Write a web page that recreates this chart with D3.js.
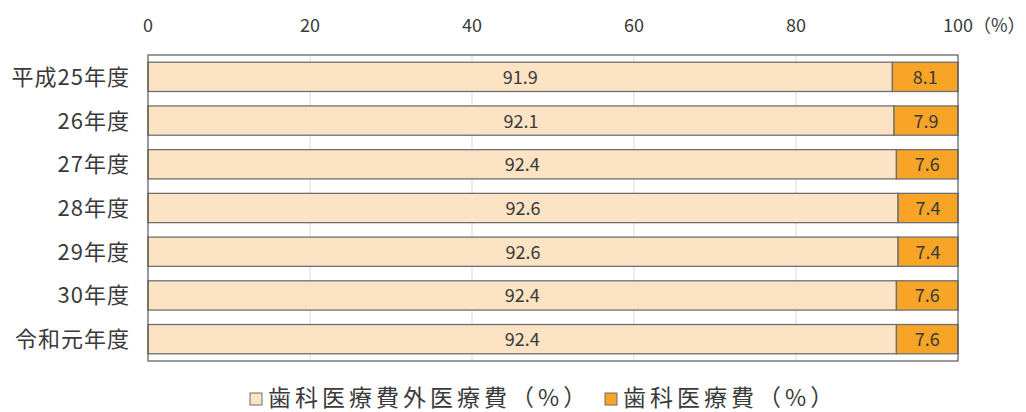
<!DOCTYPE html>
<html>
<head>
<meta charset="utf-8">
<script src="https://cdn.jsdelivr.net/npm/d3@7"></script>
<style>
  body { margin: 0; background: #fff; }
  svg text { font-family: "Noto Sans CJK JP", "Noto Sans", sans-serif; fill: #3a3a3a; }
</style>
</head>
<body>
<div id="chart"></div>
<script>
// Data
const categories = ['平成25年度', '26年度', '27年度', '28年度', '29年度', '30年度', '令和元年度'];
const otherMedical = [91.9, 92.1, 92.4, 92.6, 92.6, 92.4, 92.4];
const dental = [8.1, 7.9, 7.6, 7.4, 7.4, 7.6, 7.6];
const seriesNames = ['歯科医療費外医療費（%）', '歯科医療費（%）'];
const tickValues = [0, 20, 40, 60, 80, 100];

// Layout
const WIDTH = 1026;
const HEIGHT = 412;
const LEFT = 148;
const RIGHT = 958;
const TOP = 55;
const BOTTOM = 361;
const COLORS = ['#FBE3C3', '#F7A427'];

const svg = d3.select('#chart')
    .append('svg').attr('width', WIDTH).attr('height', HEIGHT);

const x = d3.scaleLinear().domain([0, 100]).range([LEFT, RIGHT]);
const y = d3.scaleBand().domain(categories).range([TOP, BOTTOM]).paddingInner(0.33).paddingOuter(0.165);

// Gridlines
svg.append('g')
    .selectAll('line')
    .data(tickValues.slice(1, -1))
    .join('line')
    .attr('x1', d => x(d)).attr('x2', d => x(d))
    .attr('y1', TOP).attr('y2', BOTTOM)
    .attr('stroke', '#d9d9d9')
    .attr('stroke-width', 1);

// Top axis labels
svg.append('g')
    .selectAll('text')
    .data(tickValues)
    .join('text')
    .attr('x', d => x(d))
    .attr('y', 32)
    .attr('text-anchor', 'middle')
    .style('font-size', '18px')
    .text(d => d);

// unit label after the 100 tick
svg.append('text')
    .attr('x', x(100) + 15)
    .attr('y', 32)
    .style('font-size', '18px')
    .text('（%）');

// Stacked bars
const rows = categories.map((c, i) => ({ cat: c, values: [otherMedical[i], dental[i]] }));

rows.forEach(row => {
    let start = 0;
    row.values.forEach((v, j) => {
        svg.append('rect')
            .attr('x', x(start))
            .attr('y', y(row.cat))
            .attr('width', x(start + v) - x(start))
            .attr('height', y.bandwidth())
            .attr('fill', COLORS[j])
            .attr('stroke', '#6f6f6f')
            .attr('stroke-width', 1.3);
        svg.append('text')
            .attr('x', (x(start) + x(start + v)) / 2)
            .attr('y', y(row.cat) + y.bandwidth() / 2 + 7)
            .attr('text-anchor', 'middle')
            .style('font-size', '18px')
            .text(v.toFixed(1));
        start += v;
    });
});

// Plot border
svg.append('rect')
    .attr('x', LEFT).attr('y', TOP)
    .attr('width', RIGHT - LEFT).attr('height', BOTTOM - TOP)
    .attr('fill', 'none')
    .attr('stroke', '#595959')
    .attr('stroke-width', 1.2);

// Category labels
svg.append('g')
    .selectAll('text')
    .data(categories)
    .join('text')
    .attr('x', 130)
    .attr('y', d => y(d) + y.bandwidth() / 2 + 8)
    .attr('text-anchor', 'end')
    .style('font-size', '22px')
    .style('letter-spacing', '1px')
    .text(d => d);

// Legend
const legend = svg.append('g');
const legendX = [250, 605];
seriesNames.forEach((name, i) => {
    legend.append('rect')
        .attr('x', legendX[i]).attr('y', 393)
        .attr('width', 12).attr('height', 12)
        .attr('fill', COLORS[i])
        .attr('stroke', '#6f6f6f')
        .attr('stroke-width', 1);
    legend.append('text')
        .attr('x', legendX[i] + 18)
        .attr('y', 406)
        .style('font-size', '23px')
        .style('letter-spacing', '4px')
        .text(name);
});
</script>
</body>
</html>
